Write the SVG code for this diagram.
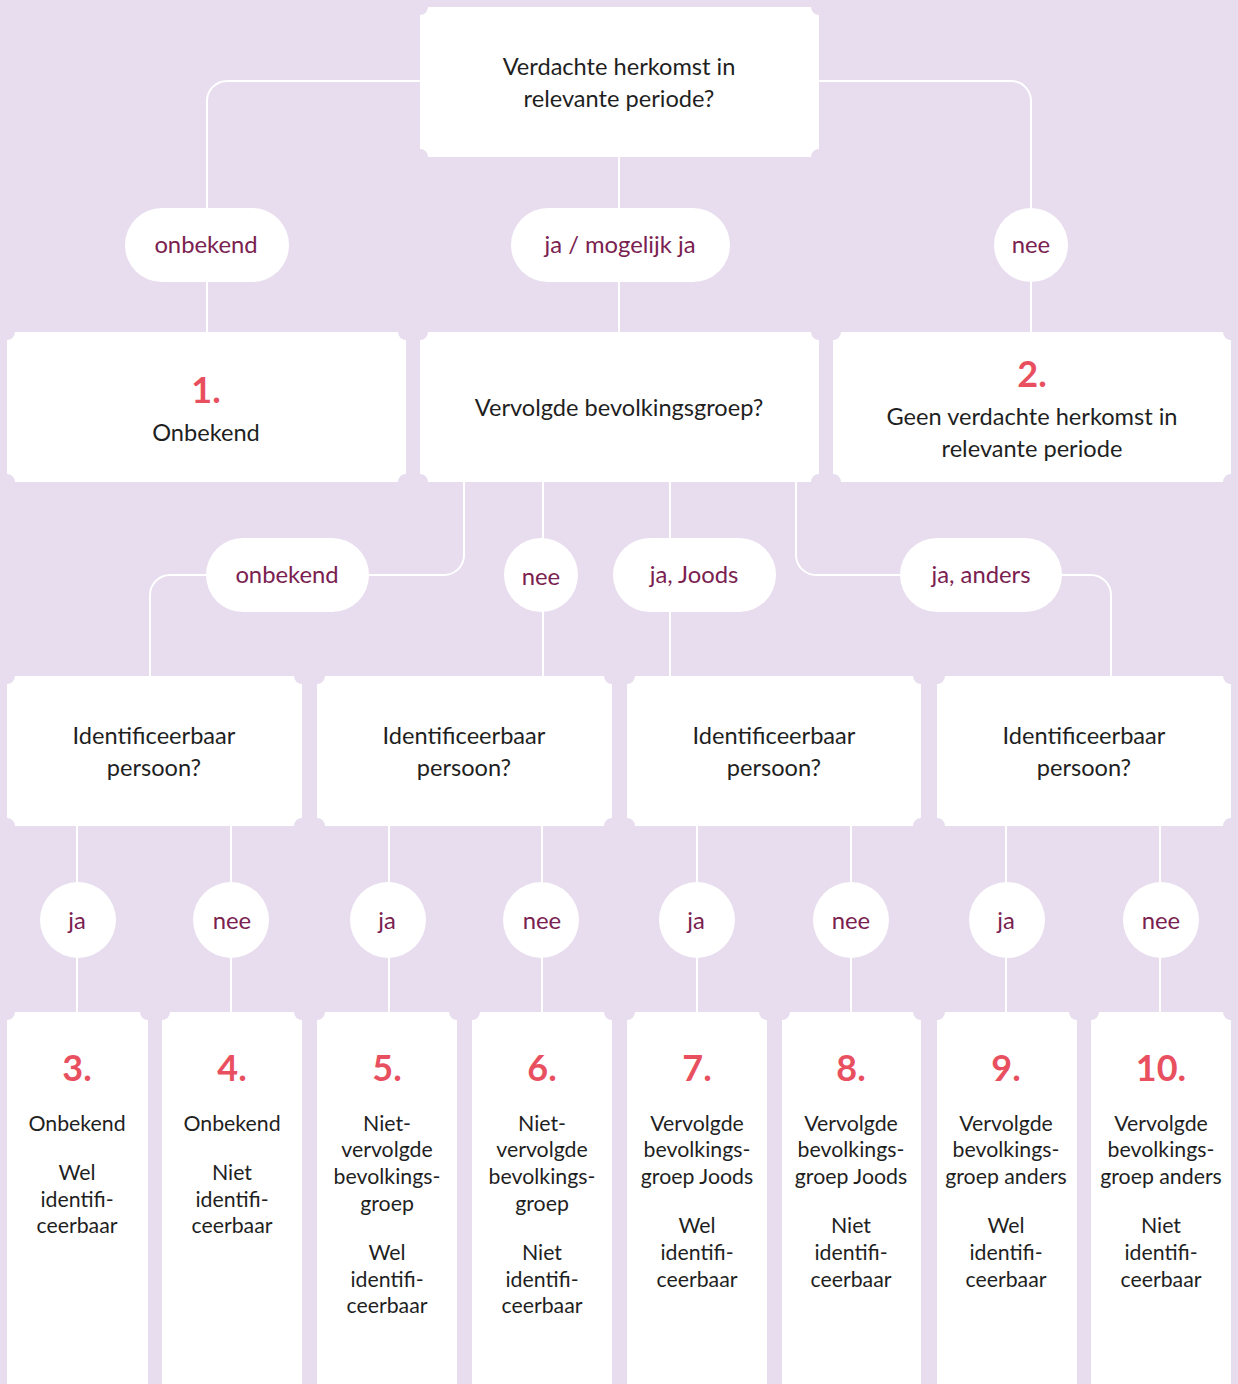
<svg xmlns="http://www.w3.org/2000/svg" width="1238" height="1384" viewBox="0 0 1238 1384">
<style>
.bg{fill:#e8ddef}
.box{fill:#ffffff}
.t{font-family:Lato,"Open Sans","DejaVu Sans",sans-serif;font-size:23.6px;fill:#1f1f1f;text-anchor:middle}
.s{font-family:Lato,"Open Sans","DejaVu Sans",sans-serif;font-size:21.3px;fill:#1f1f1f;text-anchor:middle}
.lb{font-family:Lato,"Open Sans","DejaVu Sans",sans-serif;font-size:23.8px;fill:#7a2150;text-anchor:middle}
.n{font-family:Lato,"Liberation Sans",sans-serif;font-size:36px;font-weight:bold;fill:#e9505f;text-anchor:middle}
.c{fill:none;stroke:#ffffff;stroke-width:2}
.p{fill:#ffffff}
</style>
<rect class="bg" x="0" y="0" width="1238" height="1384"/>
<g id="connectors">
<path class="c" d="M420 81 H227 A20 20 0 0 0 207 101 V332"/>
<path class="c" d="M619 157 V332"/>
<path class="c" d="M819 81 H1011 A20 20 0 0 1 1031 101 V332"/>
<path class="c" d="M464 482 V555 A20 20 0 0 1 444 575 H170 A20 20 0 0 0 150 595 V676"/>
<path class="c" d="M543 482 V676"/>
<path class="c" d="M670 482 V676"/>
<path class="c" d="M796 482 V555 A20 20 0 0 0 816 575 H1091 A20 20 0 0 1 1111 595 V676"/>
<path class="c" d="M77 826 V1012 M231 826 V1012 M389 826 V1012 M542 826 V1012 M697 826 V1012 M851 826 V1012 M1006 826 V1012 M1160 826 V1012"/>
</g>
<g id="q1"><path class="box" d="M428 7 H811 A8 8 0 0 0 819 15 V149 A8 8 0 0 0 811 157 H428 A8 8 0 0 0 420 149 V15 A8 8 0 0 0 428 7 Z"/>
<text class="t" x="619" y="75">Verdachte herkomst in</text><text class="t" x="619" y="107">relevante periode?</text></g>
<g id="l-onbekend1"><rect class="p" x="125" y="208" width="164" height="74" rx="37"/><text class="lb" x="206" y="253">onbekend</text></g>
<g id="l-ja1"><rect class="p" x="511" y="208" width="219" height="74" rx="37"/><text class="lb" x="620" y="253">ja / mogelijk ja</text></g>
<g id="l-nee1"><circle class="p" cx="1031" cy="245" r="37"/><text class="lb" x="1031" y="253">nee</text></g>
<g id="r1"><path class="box" d="M15 332 H398 A8 8 0 0 0 406 340 V474 A8 8 0 0 0 398 482 H15 A8 8 0 0 0 7 474 V340 A8 8 0 0 0 15 332 Z"/>
<text class="n" x="206" y="403">1.</text><text class="t" x="206" y="441">Onbekend</text></g>
<g id="q2"><path class="box" d="M428 332 H811 A8 8 0 0 0 819 340 V474 A8 8 0 0 0 811 482 H428 A8 8 0 0 0 420 474 V340 A8 8 0 0 0 428 332 Z"/>
<text class="t" x="619" y="416">Vervolgde bevolkingsgroep?</text></g>
<g id="r2"><path class="box" d="M841 332 H1223 A8 8 0 0 0 1231 340 V474 A8 8 0 0 0 1223 482 H841 A8 8 0 0 0 833 474 V340 A8 8 0 0 0 841 332 Z"/>
<text class="n" x="1032" y="387">2.</text><text class="t" x="1032" y="425">Geen verdachte herkomst in</text><text class="t" x="1032" y="457">relevante periode</text></g>
<g id="l-onbekend2"><rect class="p" x="206" y="538" width="163" height="74" rx="37"/><text class="lb" x="287" y="583">onbekend</text></g>
<g id="l-nee2"><circle class="p" cx="541" cy="575" r="37"/><text class="lb" x="541" y="585">nee</text></g>
<g id="l-joods"><rect class="p" x="613" y="538" width="163" height="74" rx="37"/><text class="lb" x="694" y="583">ja, Joods</text></g>
<g id="l-anders"><rect class="p" x="900" y="538" width="162" height="74" rx="37"/><text class="lb" x="981" y="583">ja, anders</text></g>
<g id="q3a"><path class="box" d="M15 676 H294 A8 8 0 0 0 302 684 V818 A8 8 0 0 0 294 826 H15 A8 8 0 0 0 7 818 V684 A8 8 0 0 0 15 676 Z"/>
<text class="t" x="154" y="744">Identificeerbaar</text><text class="t" x="154" y="776">persoon?</text></g>
<g id="q3b"><path class="box" d="M325 676 H604 A8 8 0 0 0 612 684 V818 A8 8 0 0 0 604 826 H325 A8 8 0 0 0 317 818 V684 A8 8 0 0 0 325 676 Z"/>
<text class="t" x="464" y="744">Identificeerbaar</text><text class="t" x="464" y="776">persoon?</text></g>
<g id="q3c"><path class="box" d="M635 676 H913 A8 8 0 0 0 921 684 V818 A8 8 0 0 0 913 826 H635 A8 8 0 0 0 627 818 V684 A8 8 0 0 0 635 676 Z"/>
<text class="t" x="774" y="744">Identificeerbaar</text><text class="t" x="774" y="776">persoon?</text></g>
<g id="q3d"><path class="box" d="M945 676 H1223 A8 8 0 0 0 1231 684 V818 A8 8 0 0 0 1223 826 H945 A8 8 0 0 0 937 818 V684 A8 8 0 0 0 945 676 Z"/>
<text class="t" x="1084" y="744">Identificeerbaar</text><text class="t" x="1084" y="776">persoon?</text></g>
<g id="l4-1"><circle class="p" cx="78" cy="920" r="38"/><text class="lb" x="77" y="929">ja</text></g>
<g id="l4-2"><circle class="p" cx="231" cy="920" r="38"/><text class="lb" x="232" y="929">nee</text></g>
<g id="l4-3"><circle class="p" cx="388" cy="920" r="38"/><text class="lb" x="387" y="929">ja</text></g>
<g id="l4-4"><circle class="p" cx="541" cy="920" r="38"/><text class="lb" x="542" y="929">nee</text></g>
<g id="l4-5"><circle class="p" cx="697" cy="920" r="38"/><text class="lb" x="696" y="929">ja</text></g>
<g id="l4-6"><circle class="p" cx="851" cy="920" r="38"/><text class="lb" x="851" y="929">nee</text></g>
<g id="l4-7"><circle class="p" cx="1007" cy="920" r="38"/><text class="lb" x="1006" y="929">ja</text></g>
<g id="l4-8"><circle class="p" cx="1161" cy="920" r="38"/><text class="lb" x="1161" y="929">nee</text></g>
<g id="r3"><path class="box" d="M15 1012 H140 A8 8 0 0 0 148 1020 V1392 H7 V1020 A8 8 0 0 0 15 1012 Z"/>
<text class="n" x="77" y="1081">3.</text>
<text class="s" x="77" y="1131">Onbekend</text><text class="s" x="77" y="1180">Wel</text><text class="s" x="77" y="1207">identifi-</text><text class="s" x="77" y="1233">ceerbaar</text></g>
<g id="r4"><path class="box" d="M170 1012 H294 A8 8 0 0 0 302 1020 V1392 H162 V1020 A8 8 0 0 0 170 1012 Z"/>
<text class="n" x="232" y="1081">4.</text>
<text class="s" x="232" y="1131">Onbekend</text><text class="s" x="232" y="1180">Niet</text><text class="s" x="232" y="1207">identifi-</text><text class="s" x="232" y="1233">ceerbaar</text></g>
<g id="r5"><path class="box" d="M325 1012 H449 A8 8 0 0 0 457 1020 V1392 H317 V1020 A8 8 0 0 0 325 1012 Z"/>
<text class="n" x="387" y="1081">5.</text>
<text class="s" x="387" y="1131">Niet-</text><text class="s" x="387" y="1157">vervolgde</text><text class="s" x="387" y="1184">bevolkings-</text><text class="s" x="387" y="1211">groep</text><text class="s" x="387" y="1260">Wel</text><text class="s" x="387" y="1287">identifi-</text><text class="s" x="387" y="1313">ceerbaar</text></g>
<g id="r6"><path class="box" d="M480 1012 H604 A8 8 0 0 0 612 1020 V1392 H472 V1020 A8 8 0 0 0 480 1012 Z"/>
<text class="n" x="542" y="1081">6.</text>
<text class="s" x="542" y="1131">Niet-</text><text class="s" x="542" y="1157">vervolgde</text><text class="s" x="542" y="1184">bevolkings-</text><text class="s" x="542" y="1211">groep</text><text class="s" x="542" y="1260">Niet</text><text class="s" x="542" y="1287">identifi-</text><text class="s" x="542" y="1313">ceerbaar</text></g>
<g id="r7"><path class="box" d="M635 1012 H759 A8 8 0 0 0 767 1020 V1392 H627 V1020 A8 8 0 0 0 635 1012 Z"/>
<text class="n" x="697" y="1081">7.</text>
<text class="s" x="697" y="1131">Vervolgde</text><text class="s" x="697" y="1157">bevolkings-</text><text class="s" x="697" y="1184">groep Joods</text><text class="s" x="697" y="1233">Wel</text><text class="s" x="697" y="1260">identifi-</text><text class="s" x="697" y="1287">ceerbaar</text></g>
<g id="r8"><path class="box" d="M790 1012 H913 A8 8 0 0 0 921 1020 V1392 H782 V1020 A8 8 0 0 0 790 1012 Z"/>
<text class="n" x="851" y="1081">8.</text>
<text class="s" x="851" y="1131">Vervolgde</text><text class="s" x="851" y="1157">bevolkings-</text><text class="s" x="851" y="1184">groep Joods</text><text class="s" x="851" y="1233">Niet</text><text class="s" x="851" y="1260">identifi-</text><text class="s" x="851" y="1287">ceerbaar</text></g>
<g id="r9"><path class="box" d="M945 1012 H1069 A8 8 0 0 0 1077 1020 V1392 H937 V1020 A8 8 0 0 0 945 1012 Z"/>
<text class="n" x="1006" y="1081">9.</text>
<text class="s" x="1006" y="1131">Vervolgde</text><text class="s" x="1006" y="1157">bevolkings-</text><text class="s" x="1006" y="1184">groep anders</text><text class="s" x="1006" y="1233">Wel</text><text class="s" x="1006" y="1260">identifi-</text><text class="s" x="1006" y="1287">ceerbaar</text></g>
<g id="r10"><path class="box" d="M1099 1012 H1223 A8 8 0 0 0 1231 1020 V1392 H1091 V1020 A8 8 0 0 0 1099 1012 Z"/>
<text class="n" x="1161" y="1081">10.</text>
<text class="s" x="1161" y="1131">Vervolgde</text><text class="s" x="1161" y="1157">bevolkings-</text><text class="s" x="1161" y="1184">groep anders</text><text class="s" x="1161" y="1233">Niet</text><text class="s" x="1161" y="1260">identifi-</text><text class="s" x="1161" y="1287">ceerbaar</text></g>
</svg>
